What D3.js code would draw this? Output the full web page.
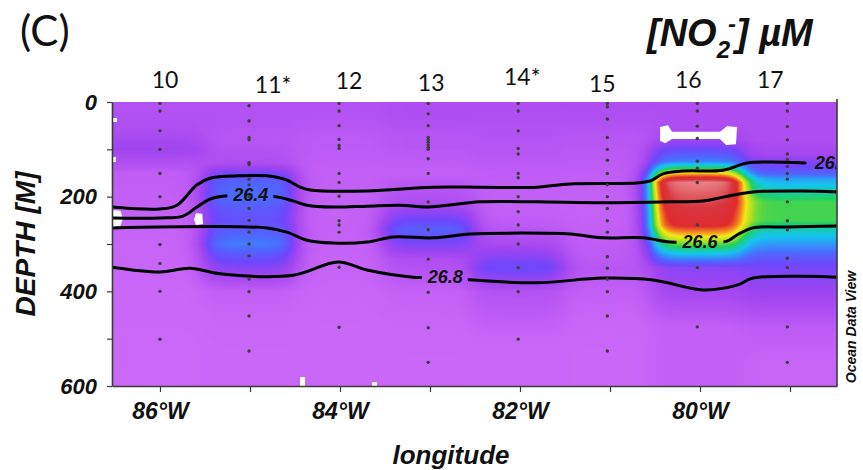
<!DOCTYPE html>
<html>
<head>
<meta charset="utf-8">
<script src="https://cdn.jsdelivr.net/npm/d3@7"></script>
<style>
  html, body { margin: 0; padding: 0; background: #fff; }
  svg { display: block; }
</style>
</head>
<body>
<svg id="chart" width="863" height="470"></svg>
<script>
// ---- Section data: nitrite (µM) at CTD stations along the transect ----
const stationNames = ["10", "11*", "12", "13", "14*", "15", "16", "17"];
const stationLon = [-86.0, -85.01, -84.01, -83.02, -82.02, -81.03, -80.03, -79.03];

// bottle depths (m) per station
const sampleDepths = [
  [3, 19, 61, 100, 151, 200, 301, 341, 400, 501],
  [8, 40, 75, 80, 128, 132, 163, 175, 200, 225, 250, 275, 300, 325, 374, 401, 452, 526],
  [3, 19, 50, 79, 92, 98, 151, 170, 199, 251, 260, 275, 349, 476],
  [3, 25, 50, 75, 80, 85, 91, 96, 100, 120, 151, 211, 270, 332, 402, 477, 550],
  [3, 19, 61, 98, 110, 151, 160, 200, 232, 260, 300, 350, 401, 501],
  [3, 10, 36, 75, 100, 123, 151, 175, 200, 225, 251, 275, 327, 351, 374, 401, 452, 526],
  [3, 19, 51, 77, 125, 140, 170, 260, 350, 475],
  [3, 19, 52, 80, 110, 122, 136, 151, 163, 211, 251, 270, 330, 350, 475, 550]
];

// [NO2-] (µM) at those depths
const no2Values = [
  [0.25, 0.25, 0.3, 0.45, 0.12, 0.1, 0.05, 0.05, 0.03, 0.02],
  [0.25, 0.25, 0.2, 0.2, 0.3, 0.35, 0.95, 1.05, 1.1, 0.95, 0.85, 1.0, 1.2, 0.9, 0.35, 0.1, 0.05, 0.03],
  [0.25, 0.25, 0.2, 0.15, 0.15, 0.15, 0.1, 0.1, 0.08, 0.08, 0.08, 0.08, 0.06, 0.03],
  [0.3, 0.3, 0.25, 0.2, 0.2, 0.2, 0.2, 0.2, 0.18, 0.15, 0.1, 0.3, 1.0, 0.3, 0.08, 0.04, 0.03],
  [0.3, 0.3, 0.25, 0.2, 0.2, 0.12, 0.12, 0.1, 0.1, 0.15, 0.35, 0.8, 0.25, 0.04],
  [0.3, 0.3, 0.28, 0.2, 0.18, 0.15, 0.12, 0.1, 0.08, 0.08, 0.08, 0.1, 0.15, 0.2, 0.15, 0.1, 0.05, 0.03],
  [0.3, 0.3, 0.3, 0.4, 1.2, 2.1, 4.5, 3.7, 0.6, 0.1],
  [0.3, 0.3, 0.3, 0.3, 0.4, 0.55, 0.75, 1.0, 1.4, 2.2, 2.2, 1.8, 0.9, 0.7, 0.15, 0.05]
];

// colour map (µM -> colour)
const colorStops = [0, 0.2, 0.45, 0.75, 1.1, 1.6, 2.1, 2.5, 2.85, 3.15, 3.6, 4.0, 4.5];
const colorRange = ["#cc6af8", "#b755f4", "#a044f0", "#7046fc", "#4a6cff", "#14c4f0",
                    "#20d060", "#a8e020", "#f4e816", "#f49020", "#e02a2c", "#d8343e", "#e88286"];

// isopycnal depths (sigma-theta) as [longitude, depth m]
const isopycnalLevels = ["26.2", "26.4", "26.6", "26.8"];
const isopycnalDepths = [
  [[-86.533, 222], [-86.0, 226], [-85.811, 218], [-85.589, 175], [-85.444, 161], [-85.111, 156],
   [-84.811, 156], [-84.589, 165], [-84.444, 180], [-84.333, 186], [-83.7, 188], [-82.967, 180],
   [-82.444, 180], [-81.811, 180], [-81.444, 173], [-80.7, 171], [-80.556, 167], [-80.411, 152],
   [-80.189, 146], [-79.744, 144], [-79.478, 129], [-79.222, 127], [-78.833, 129]],
  [[-86.533, 245], [-86.0, 245], [-85.744, 241], [-85.589, 222], [-85.444, 205], [-85.3, 199],
   [-84.989, 196.5], [-84.689, 201], [-84.522, 209], [-84.367, 218], [-84.078, 222], [-83.7, 220],
   [-83.333, 218], [-83.022, 222], [-82.444, 211], [-81.811, 211], [-81.078, 213], [-80.333, 211],
   [-79.967, 209], [-79.744, 201], [-79.411, 190], [-78.856, 188], [-78.478, 190]],
  [[-86.533, 266], [-84.811, 266], [-84.589, 275], [-84.367, 292], [-84.078, 298], [-83.7, 296],
   [-83.411, 285], [-82.967, 287], [-82.556, 279], [-82.0, 277], [-81.444, 279], [-81.078, 287],
   [-80.633, 287], [-80.333, 296], [-80.0, 296], [-79.7, 294], [-79.589, 281], [-79.411, 266],
   [-79.033, 264], [-78.478, 262]],
  [[-86.533, 349], [-86.0, 359], [-85.667, 351], [-85.333, 363], [-84.522, 366], [-84.022, 338],
   [-83.7, 355], [-83.189, 370], [-82.833, 370], [-82.522, 376], [-81.811, 382], [-81.078, 372],
   [-80.522, 376], [-79.967, 397], [-79.589, 387], [-79.411, 372], [-78.478, 370]]
];
const isopycnalLabelLon = [-78.53, -84.99, -80.0, -82.83];
const isopycnalLabelDepth = [129, 196.5, 296, 370];

// areas without enough data to grid, as [longitude, depth] outlines
const noDataPatches = [
  [[-80.444, 53], [-80.356, 49], [-80.311, 63], [-79.778, 63], [-79.7, 51], [-79.589, 53],
   [-79.6, 89], [-79.711, 91], [-79.778, 78], [-80.311, 78], [-80.389, 87], [-80.444, 82]],
  [[-86.533, 34], [-86.478, 34], [-86.478, 42], [-86.533, 42]],
  [[-86.533, 116], [-86.49, 116], [-86.49, 127], [-86.533, 127]],
  [[-86.533, 228], [-86.44, 230], [-86.411, 246], [-86.44, 262], [-86.533, 264]],
  [[-85.6, 235], [-85.53, 236], [-85.522, 258], [-85.6, 260], [-85.622, 248]],
  [[-84.444, 581], [-84.389, 581], [-84.389, 600], [-84.444, 600]],
  [[-83.644, 592], [-83.589, 592], [-83.589, 600], [-83.644, 600]]
];

const depthTicks = [0, 100, 200, 300, 400, 500, 600];
const lonTicks = [-86, -85, -84, -83, -82, -81, -80, -79];

// ---- Layout ----
const svg = d3.select("#chart");
const plot = { left: 112, top: 102, right: 837, bottom: 386 };
const W = plot.right - plot.left, H = plot.bottom - plot.top;
const boldItalic = "'Liberation Sans', Arial, sans-serif";

const x = d3.scaleLinear().domain([-86.533, -78.478]).range([plot.left, plot.right]);
const y = d3.scaleLinear().domain([0, 600]).range([plot.top, plot.bottom]);
const color = d3.scaleLinear().domain(colorStops).range(colorRange)
  .interpolate(d3.interpolateRgb).clamp(true);

// ---- Gridded field: linear in depth per station, gaussian-weighted across stations ----
const profiles = sampleDepths.map((ds, i) =>
  d3.scaleLinear().domain(ds).range(no2Values[i]).clamp(true));
const lut = d3.range(1001).map(k => d3.rgb(color(k * 5 / 1000)));
const canvas = document.createElement("canvas");
canvas.width = W; canvas.height = H;
const ctx = canvas.getContext("2d");
const img = ctx.createImageData(W, H);
const rowVals = d3.range(H).map(r => {
  const dep = y.invert(plot.top + r + 0.5);
  return profiles.map(p => p(dep));
});
const Lx = 0.37;
for (let c = 0; c < W; c++) {
  const lon = x.invert(plot.left + c + 0.5);
  const w = stationLon.map(s => Math.exp(-Math.pow((lon - s) / Lx, 2)));
  const sw = d3.sum(w);
  for (let r = 0; r < H; r++) {
    const vals = rowVals[r];
    let v = 0;
    for (let i = 0; i < w.length; i++) v += w[i] * vals[i];
    v /= sw;
    const k = Math.max(0, Math.min(1000, Math.round(v / 5 * 1000)));
    const col = lut[k];
    const o = (r * W + c) * 4;
    img.data[o] = col.r; img.data[o + 1] = col.g; img.data[o + 2] = col.b; img.data[o + 3] = 255;
  }
}
ctx.putImageData(img, 0, 0);

const defs = svg.append("defs");
defs.append("clipPath").attr("id", "plotClip")
  .append("rect").attr("x", plot.left).attr("y", plot.top).attr("width", W).attr("height", H);

svg.append("image")
  .attr("x", plot.left).attr("y", plot.top)
  .attr("width", W).attr("height", H)
  .attr("preserveAspectRatio", "none")
  .attr("href", canvas.toDataURL());

const inner = svg.append("g").attr("clip-path", "url(#plotClip)");

// gaps in the gridded field
inner.selectAll("path.gap").data(noDataPatches).join("path")
  .attr("class", "gap")
  .attr("d", d => d3.line().x(p => x(p[0])).y(p => y(p[1])).curve(d3.curveLinearClosed)(d))
  .attr("fill", "#ffffff");

// isopycnal labels first, so their boxes can cut gaps in the lines
const labelG = inner.append("g");
const labels = labelG.selectAll("text").data(isopycnalLevels).join("text")
  .attr("x", (d, i) => x(isopycnalLabelLon[i]))
  .attr("y", (d, i) => y(isopycnalLabelDepth[i]))
  .attr("text-anchor", "middle")
  .attr("dominant-baseline", "central")
  .attr("font-family", boldItalic)
  .attr("font-weight", "bold").attr("font-style", "italic")
  .attr("font-size", 18)
  .attr("fill", "#111")
  .text(d => d);

const mask = defs.append("mask").attr("id", "isoMask")
  .attr("maskUnits", "userSpaceOnUse")
  .attr("x", 0).attr("y", 0).attr("width", 863).attr("height", 470);
mask.append("rect").attr("x", 0).attr("y", 0).attr("width", 863).attr("height", 470).attr("fill", "#fff");
labels.each(function () {
  const b = this.getBBox();
  mask.append("rect")
    .attr("x", b.x - 5).attr("y", b.y - 2)
    .attr("width", b.width + 10).attr("height", b.height + 4)
    .attr("fill", "#000");
});

const isoLine = d3.line().x(p => x(p[0])).y(p => y(p[1])).curve(d3.curveCatmullRom.alpha(0.5));
inner.append("g").attr("mask", "url(#isoMask)")
  .selectAll("path").data(isopycnalDepths).join("path")
  .attr("d", isoLine)
  .attr("fill", "none")
  .attr("stroke", "#000")
  .attr("stroke-width", 3)
  .attr("stroke-linecap", "round");
labelG.raise();

// sample positions
const dots = [];
sampleDepths.forEach((ds, i) => ds.forEach(dp => dots.push([stationLon[i], dp])));
inner.append("g").selectAll("circle").data(dots).join("circle")
  .attr("cx", d => x(d[0])).attr("cy", d => y(d[1]))
  .attr("r", 1.7).attr("fill", "#3d3d3d");

// ---- Axes ----
const axisColor = "#3a3a3a";
const yAxis = svg.append("g").attr("transform", `translate(${plot.left},0)`)
  .call(d3.axisLeft(y).tickValues(depthTicks)
    .tickFormat(d => d % 200 === 0 ? d : "")
    .tickSize(5).tickSizeOuter(0).tickPadding(10));
const xAxis = svg.append("g").attr("transform", `translate(0,${plot.bottom})`)
  .call(d3.axisBottom(x).tickValues(lonTicks)
    .tickFormat(d => d % 2 === 0 ? `${-d}°W` : "")
    .tickSize(6).tickSizeOuter(0).tickPadding(11));
[yAxis, xAxis].forEach(a => {
  a.select(".domain").attr("stroke", axisColor).attr("stroke-width", 1.6);
  a.selectAll(".tick line").attr("stroke", axisColor).attr("stroke-width", 1.2);
  a.selectAll(".tick text")
    .attr("fill", "#111")
    .attr("font-family", boldItalic)
    .attr("font-weight", "bold").attr("font-style", "italic");
});
yAxis.selectAll(".tick text").attr("font-size", 22);
xAxis.selectAll(".tick text").attr("font-size", 23);

svg.append("line")
  .attr("x1", plot.right).attr("x2", plot.right)
  .attr("y1", plot.top - 3).attr("y2", plot.bottom)
  .attr("stroke", axisColor).attr("stroke-width", 1.6);

// ---- Station labels ----
const labelNudge = [[5, 88], [24, 93], [10, 89], [3, 91], [4, 85], [-5, 92], [-9, 88], [-17, 88]];
svg.append("g").selectAll("text").data(stationNames).join("text")
  .attr("x", (d, i) => x(stationLon[i]) + labelNudge[i][0])
  .attr("y", (d, i) => labelNudge[i][1])
  .attr("text-anchor", "middle")
  .attr("font-family", "Lato, 'Open Sans', sans-serif")
  .attr("font-size", 23)
  .attr("fill", "#111")
  .text(d => d);

// ---- Titles and axis names ----
svg.append("text")
  .attr("x", 20).attr("y", 46)
  .attr("font-family", "Lato, 'Open Sans', sans-serif")
  .attr("font-size", 42)
  .attr("fill", "#111")
  .text("(C)");

const unit = svg.append("text")
  .attr("x", 647).attr("y", 46)
  .attr("font-family", boldItalic)
  .attr("font-weight", "bold").attr("font-style", "italic")
  .attr("font-size", 38)
  .attr("fill", "#111");
unit.append("tspan").text("[NO");
unit.append("tspan").attr("font-size", 24).attr("dy", 12).text("2");
unit.append("tspan").attr("font-size", 24).attr("dx", -2).attr("dy", -26).text("-");
unit.append("tspan").attr("dy", 14).text("] µM");

svg.append("text")
  .attr("transform", "translate(26,244) rotate(-90)")
  .attr("text-anchor", "middle")
  .attr("dominant-baseline", "central")
  .attr("font-family", boldItalic)
  .attr("font-weight", "bold").attr("font-style", "italic")
  .attr("font-size", 27)
  .attr("textLength", 145).attr("lengthAdjust", "spacingAndGlyphs")
  .attr("fill", "#111")
  .text("DEPTH [M]");

svg.append("text")
  .attr("x", 451).attr("y", 464)
  .attr("text-anchor", "middle")
  .attr("font-family", boldItalic)
  .attr("font-weight", "bold").attr("font-style", "italic")
  .attr("font-size", 26)
  .attr("fill", "#111")
  .text("longitude");

svg.append("text")
  .attr("transform", "translate(851,327) rotate(-90)")
  .attr("text-anchor", "middle")
  .attr("dominant-baseline", "central")
  .attr("font-family", boldItalic)
  .attr("font-weight", "bold").attr("font-style", "italic")
  .attr("font-size", 14)
  .attr("fill", "#111")
  .text("Ocean Data View");
</script>
</body>
</html>
